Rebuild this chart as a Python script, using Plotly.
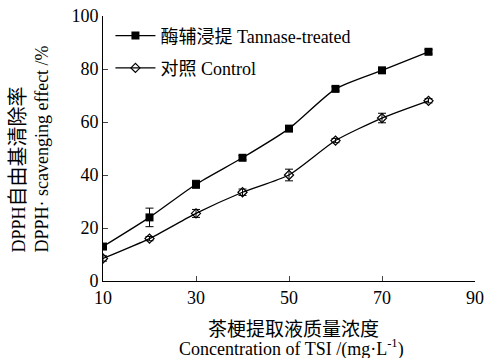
import plotly.graph_objects as go

conc = [10, 20, 30, 40, 50, 60, 70, 80]
treated = [13, 24, 36.5, 46.5, 57.5, 72.5, 79.5, 86.5]
treated_err = [1.0, 3.5, 1.5, 0.8, 0.8, 0.8, 0.8, 0.8]
control = [8.5, 16, 25.5, 33.5, 40, 53, 61.5, 68]
control_err = [1.0, 0.8, 1.5, 1.2, 2.2, 0.8, 1.8, 0.8]
names = ["酶辅浸提 Tannase-treated", "对照 Control"]
xticks = [10, 30, 50, 70, 90]
yticks = [0, 20, 40, 60, 80, 100]

FONT = "Liberation Serif, Noto Sans CJK SC, serif"

L, R, T, B = 103, 9, 16, 77
W, H = 484, 358
pw, ph = W - L - R, H - T - B

fig = go.Figure()
fig.add_trace(go.Scatter(
    x=conc, y=treated, name=names[0], mode="lines+markers", legendgroup="a",
    line=dict(color="black", width=1.3, shape="spline", smoothing=0.6),
    marker=dict(symbol="square", size=8, color="black"),
    error_y=dict(type="data", array=treated_err, color="black", thickness=1, width=4),
))
fig.add_trace(go.Scatter(
    x=conc, y=control, name=names[1], mode="lines+markers", legendgroup="b",
    line=dict(color="black", width=1.3, shape="spline", smoothing=0.6),
    marker=dict(symbol="diamond-open", size=7, color="black", line=dict(width=1.2)),
    error_y=dict(type="data", array=control_err, color="black", thickness=1, width=4),
))

# axis titles as annotations
fig.add_annotation(
    text='DPPH<span style="font-size:20px">自由基清除率</span><br>DPPH· scavenging effect /%',
    textangle=-90, align="left", showarrow=False,
    xref="paper", yref="paper", xanchor="center", yanchor="bottom",
    x=(29 - L) / pw, y=(H - B - 255) / ph,
    font=dict(size=18, family=FONT, color="black"),
)
fig.add_annotation(
    text='<span style="font-size:19px">茶梗提取液质量浓度</span>',
    showarrow=False, xref="paper", yref="paper", xanchor="center", yanchor="middle",
    x=(293 - L) / pw, y=(H - B - 329) / ph,
    font=dict(size=19, family=FONT, color="black"),
)
fig.add_annotation(
    text='Concentration of TSI /(mg·L<sup>-1</sup>)',
    showarrow=False, xref="paper", yref="paper", xanchor="center", yanchor="middle",
    x=(291 - L) / pw, y=(H - B - 348) / ph,
    font=dict(size=18, family=FONT, color="black"),
)

fig.update_layout(
    width=W, height=H,
    margin=dict(l=L, r=R, t=T, b=B),
    plot_bgcolor="white", paper_bgcolor="white",
    font=dict(family=FONT, size=18, color="black"),
    showlegend=True,
    legend=dict(x=0.02, y=0.995, xanchor="left", yanchor="top",
                bgcolor="rgba(0,0,0,0)", font=dict(size=18, family=FONT),
                itemwidth=40, tracegroupgap=6),
    xaxis=dict(range=[10, 90], tickvals=xticks, ticks="inside", ticklen=5,
               showline=True, linecolor="black", linewidth=1, showgrid=False,
               zeroline=False, tickfont=dict(size=18), ticklabeloverflow="allow",
               automargin=False),
    yaxis=dict(range=[0, 100], tickvals=yticks, ticks="inside", ticklen=5,
               showline=True, linecolor="black", linewidth=1, showgrid=False,
               zeroline=False, tickfont=dict(size=18), ticklabeloverflow="allow",
               automargin=False),
)

fig.write_html("out.html")
